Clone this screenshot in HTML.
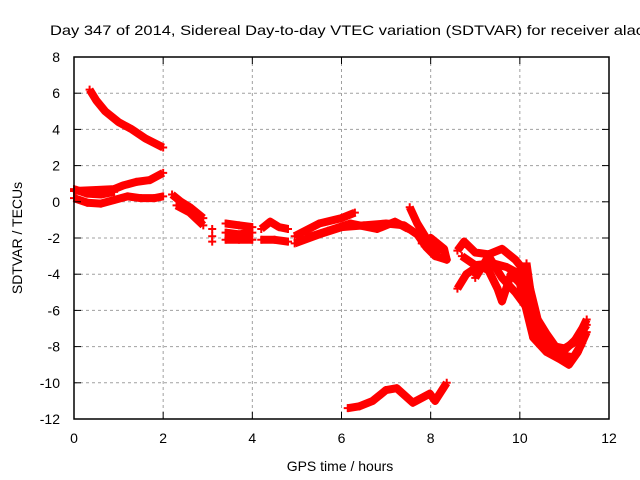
<!DOCTYPE html>
<html><head><meta charset="utf-8"><style>
html,body{margin:0;padding:0;background:#fff;overflow:hidden;width:640px;height:480px}
svg text{font-family:"Liberation Sans",sans-serif;font-size:14px;fill:#000}
</style></head><body>
<svg id="chart" width="640" height="480" xmlns="http://www.w3.org/2000/svg">
<rect width="640" height="480" fill="#fff"/>
<text x="50" y="35" font-size="15" textLength="594" lengthAdjust="spacingAndGlyphs">Day 347 of 2014, Sidereal Day-to-day VTEC variation (SDTVAR) for receiver alac</text>
<g id="grid"></g>
<g id="marks"></g>
<rect x="74" y="57" width="535" height="362" fill="none" stroke="#000" stroke-width="1.5"/>
<g id="ticks"></g>
<text x="340" y="471" text-anchor="middle">GPS time / hours</text>
<text transform="translate(22,238) rotate(-90)" text-anchor="middle">SDTVAR / TECUs</text>
</svg>
<script>
const xTicks=[0,2,4,6,8,10,12];
const yTicks=[8,6,4,2,0,-2,-4,-6,-8,-10,-12];
const trackTop=[[0.35,6.2],[0.5,5.6],[0.7,5.0],[1.0,4.4],[1.3,4.0],[1.6,3.5],[2.0,3.0]];
const trackRise=[[0,0.6],[0.5,0.65],[0.9,0.7],[1.1,0.9],[1.4,1.1],[1.7,1.2],[2.0,1.6]];
const trackLow=[[0,0.2],[0.3,-0.05],[0.6,-0.1],[0.9,0.1],[1.2,0.3],[1.5,0.2],[1.8,0.2],[2.0,0.3]];
const trackLoop=[[0,0.7],[0.3,0.45],[0.6,0.4],[0.9,0.55]];
const trackD=[[2.2,0.4],[2.4,0.0],[2.6,-0.3],[2.9,-0.9]];
const trackD2=[[2.3,-0.2],[2.6,-0.6],[2.9,-1.3]];
const isolated=[[3.1,-1.5],[3.1,-1.9],[3.1,-2.2]];
const trackE1=[[3.4,-1.2],[3.7,-1.3],[4.0,-1.4]];
const trackE2=[[3.4,-1.7],[3.7,-1.8],[4.0,-1.7]];
const trackE3=[[3.4,-2.1],[3.7,-2.1],[4.0,-2.1]];
const trackF1=[[4.2,-1.5],[4.4,-1.1],[4.6,-1.4],[4.8,-1.5]];
const trackF2=[[4.2,-2.1],[4.5,-2.1],[4.8,-2.2]];
const trackG=[[4.95,-2.3],[5.5,-1.8],[6.0,-1.4],[6.5,-1.3],[7.0,-1.2],[7.4,-1.3],[7.7,-1.8],[7.9,-2.5],[8.1,-3.0],[8.36,-3.2],[8.3,-2.6],[8.0,-2.0],[7.8,-2.3]];
const trackG2=[[4.95,-1.9],[5.5,-1.2],[6.0,-0.9],[6.3,-0.6]];
const trackG3=[[5.2,-2.0],[5.7,-1.6],[6.2,-1.2],[6.8,-1.5],[7.2,-1.1],[7.5,-1.5]];
const trackH=[[7.53,-0.3],[7.7,-1.2],[7.9,-2.0],[8.2,-2.8]];
const trackBottom=[[6.14,-11.4],[6.4,-11.3],[6.7,-11.0],[7.0,-10.4],[7.24,-10.3],[7.6,-11.1],[7.98,-10.6],[8.1,-11.0],[8.36,-10.0]];
const trackR1=[[8.6,-2.7],[8.75,-2.2],[9.0,-2.8],[9.3,-2.9],[9.6,-2.6],[9.9,-3.2],[10.0,-3.5],[10.2,-4.5],[10.4,-6.5],[10.6,-7.3],[10.8,-8.0],[11.0,-8.1],[11.2,-7.8],[11.4,-7.0],[11.5,-6.5]];
const trackR2=[[8.6,-4.8],[8.8,-4.0],[9.1,-3.5],[9.3,-3.8],[9.5,-4.8],[9.6,-5.5],[9.8,-4.0],[10.0,-4.5],[10.1,-5.5],[10.3,-7.5],[10.6,-8.3],[10.9,-8.7],[11.1,-9.0],[11.3,-8.3],[11.5,-7.2]];
const trackR3=[[8.7,-3.0],[9.0,-3.5],[9.4,-3.4],[9.7,-3.6],[10.0,-4.0],[10.3,-6.5],[10.7,-8.0],[11.0,-8.2],[11.3,-7.5],[11.5,-6.8]];
const trackR4=[[10.15,-3.4],[10.3,-6.0],[10.5,-7.2],[10.7,-8.0]];
const trackR5=[[9.0,-4.2],[9.3,-3.0],[9.6,-4.2],[9.9,-5.0],[10.2,-6.0],[10.5,-7.8],[10.8,-8.4],[11.2,-8.6],[11.4,-7.8]];
const tracks=[trackTop,trackRise,trackLow,trackLoop,trackD,trackD2,trackE1,trackE2,trackE3,trackF1,trackF2,trackG,trackG2,trackG3,trackH,trackBottom,trackR1,trackR2,trackR3,trackR4,trackR5];

const L=74,R=609,T=57,B=419;
const xs=v=>L+(v-0)/12*(R-L);
const ys=v=>B-(v+12)/20*(B-T);
const NS="http://www.w3.org/2000/svg";
function mk(tag,parent){const e=document.createElementNS(NS,tag);parent.appendChild(e);return e;}
const grid=document.getElementById('grid'),ticks=document.getElementById('ticks'),marks=document.getElementById('marks');
xTicks.forEach(v=>{
  const x=xs(v);
  if(v>0&&v<12){const g=mk('line',grid);
    
    
    g.setAttribute('x1',x);g.setAttribute('x2',x);g.setAttribute('y1',T);g.setAttribute('y2',B);
    g.setAttribute('stroke','#a0a0a0');g.setAttribute('stroke-dasharray','3,3');}
  [[B,B-7],[T,T+7]].forEach(p=>{const t=mk('line',ticks);
    
    
    t.setAttribute('x1',x);t.setAttribute('x2',x);t.setAttribute('y1',p[0]);t.setAttribute('y2',p[1]);t.setAttribute('stroke','#000');});
  const lb=mk('text',ticks);
  
  
  lb.setAttribute('x',x);lb.setAttribute('y',443);lb.setAttribute('text-anchor','middle');lb.textContent=v;
});
yTicks.forEach(v=>{
  const y=ys(v);
  if(v>-12&&v<8){const g=mk('line',grid);
    
    
    g.setAttribute('x1',L);g.setAttribute('x2',R);g.setAttribute('y1',y);g.setAttribute('y2',y);
    g.setAttribute('stroke','#a0a0a0');g.setAttribute('stroke-dasharray','3,3');}
  [[L,L+7],[R,R-7]].forEach(p=>{const t=mk('line',ticks);
    
    
    t.setAttribute('x1',p[0]);t.setAttribute('x2',p[1]);t.setAttribute('y1',y);t.setAttribute('y2',y);t.setAttribute('stroke','#000');});
  const lb=mk('text',ticks);
  
  
  lb.setAttribute('x',L-14);lb.setAttribute('y',y+5);lb.setAttribute('text-anchor','end');lb.textContent=v;
});
function plus(x,y){
  const p=mk('path',marks);
  
  
  p.setAttribute('d',`M${x-4},${y}H${x+4}M${x},${y-4}V${y+4}`);
  p.setAttribute('stroke','#f00');p.setAttribute('stroke-width','2');
}
tracks.forEach(tr=>{
  const pl=mk('polyline',marks);
  
  
  pl.setAttribute('points',tr.map(p=>xs(p[0])+','+ys(p[1])).join(' '));
  pl.setAttribute('fill','none');pl.setAttribute('stroke','#f00');pl.setAttribute('stroke-width','8');
  pl.setAttribute('stroke-linejoin','round');
  tr.forEach(p=>plus(xs(p[0]),ys(p[1])));
});
isolated.forEach(p=>plus(xs(p[0]),ys(p[1])));
</script>
</body></html>
